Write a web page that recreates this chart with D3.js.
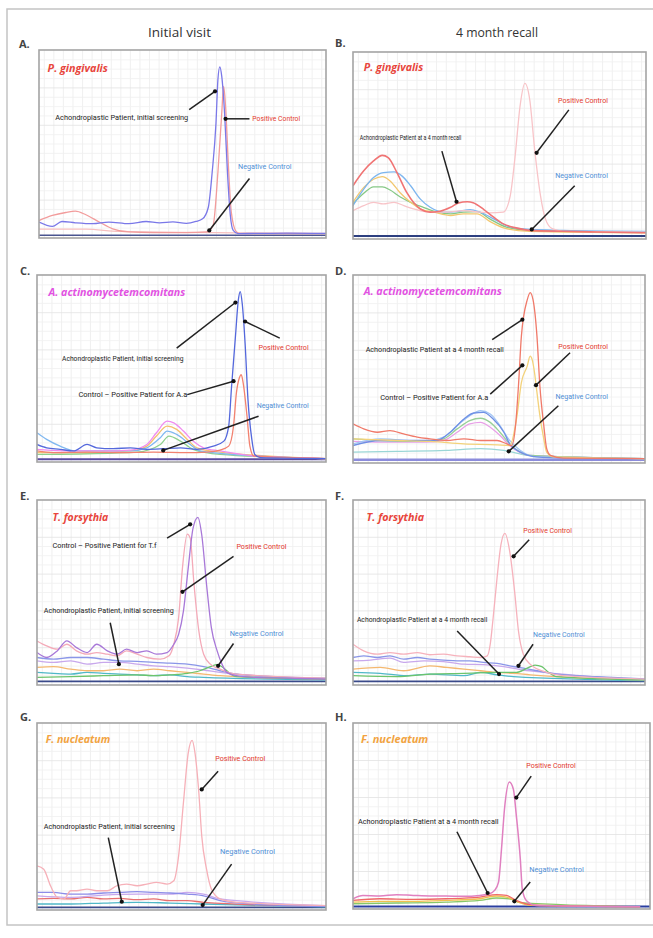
<!DOCTYPE html>
<html><head><meta charset="utf-8">
<script src="https://cdn.jsdelivr.net/npm/d3@7"></script>
<style>body{margin:0;background:#fff}svg{display:block}</style>
</head><body><svg id="fig" width="653" height="938"></svg>
<script>
// ---------------- DATA (temperature °C, -dF/dT relative units) ----------------
const columnTitles = ["Initial visit", "4 month recall"];
const panelLetters = ["A.", "B.", "C.", "D.", "E.", "F.", "G.", "H."];
const speciesNames = ["P. gingivalis", "P. gingivalis", "A. actinomycetemcomitans", "A. actinomycetemcomitans",
  "T. forsythia", "T. forsythia", "F. nucleatum", "F. nucleatum"];
const tempDomain = [65, 95];
const valueDomain = [0, 100];

// Panel A
const A_patient = [[65.0,8.0],[66.4,5.7],[67.4,8.3],[68.8,7.6],[70.6,7.1],[72.3,8.0],[74.4,7.1],[76.2,8.3],[77.6,7.6],[79.0,8.1],[80.4,7.3],[81.4,8.3],[82.1,9.7],[82.7,15.9],[83.1,34.5],[83.5,61],[83.7,84],[83.9,91],[84.1,86],[84.4,66],[84.7,34.5],[85.0,11.5],[85.3,3.5],[85.8,1.8],[87.4,1.9],[90.9,2.1],[95,1.9]];
const A_positive = [[65.0,8.8],[66.4,11.5],[67.8,13.1],[68.8,13.8],[69.9,11.9],[71.3,8.0],[72.7,4.4],[74.4,2.7],[76.9,2.3],[80.4,2.3],[82.5,2.7],[83.2,6.2],[83.7,34.5],[84.1,66],[84.3,80.5],[84.5,70],[84.8,38],[85.1,13.3],[85.6,3.0],[86.0,1.8],[95,1.8]];
const A_sample = [[65.0,4.2],[69.9,4.2],[73.4,3.0],[95,1.9]];
const A_negative = [[65,0.9],[95,0.9]];

// Panel B
const B_red = [[65.0,28.1],[66.1,36.1],[67.1,41.4],[68.0,44.4],[68.6,43.2],[69.5,35.2],[70.5,24.5],[71.9,15.6],[72.9,13.9],[73.9,14.4],[75.0,16.5],[75.8,18.8],[76.7,19.5],[77.3,19.0],[78.4,15.3],[79.4,11.2],[80.4,7.6],[81.8,5.3],[83.1,4.1],[86.5,3.6],[90.0,3.2],[95,2.8]];
const B_positive = [[65.0,14.7],[66.1,17.4],[67.1,19.2],[68.1,18.3],[69.2,19.2],[70.2,17.4],[71.2,15.6],[72.9,13.9],[74.6,13.9],[76.3,14.7],[78.0,13.9],[79.0,13.5],[80.4,13.9],[81.1,22.7],[81.6,44.0],[82.1,70.7],[82.6,83.1],[83.1,74.2],[83.6,47.6],[84.2,22.7],[84.7,10.3],[85.4,5.0],[86.5,3.6],[95,3.2]];
const B_blue = [[65.0,17.4],[66.1,26.3],[67.1,32.5],[68.1,35.2],[69.2,35.5],[70.0,33.4],[70.9,28.1],[71.9,20.9],[72.9,16.5],[74.3,13.9],[75.6,14.2],[77.0,15.3],[78.0,13.9],[79.4,10.3],[80.7,6.7],[82.1,5.0],[86.5,4.1],[95,3.6]];
const B_orange = [[65.0,19.2],[66.1,27.2],[67.1,31.6],[68.0,33.0],[68.8,30.7],[69.8,24.5],[70.9,19.2],[71.9,15.6],[73.3,13.9],[75.0,12.1],[76.3,13.0],[77.7,13.0],[79.0,8.9],[80.7,5.0],[83.1,3.6],[95,2.8]];
const B_green = [[65.0,18.3],[66.1,24.0],[67.1,27.5],[68.0,27.5],[68.8,25.8],[69.8,22.2],[70.9,19.2],[72.2,16.5],[73.6,13.9],[75.0,13.0],[76.3,13.9],[77.7,14.2],[79.0,10.3],[80.7,5.9],[83.1,4.1],[95,3.2]];
const B_negative = [[65,1.1],[95,1.1]];

// Panel C
const C_patient = [[65.0,8.9],[66.0,7.1],[67.4,6.3],[68.8,5.4],[70.2,8.9],[71.2,7.1],[72.9,6.6],[74.7,7.1],[76.4,6.3],[78.1,6.6],[79.9,7.1],[81.6,6.3],[83.3,8.0],[84.4,10.7],[84.9,18.8],[85.2,40.2],[85.6,66.9],[85.9,86.6],[86.1,91.1],[86.3,84.8],[86.6,63.4],[86.9,33.0],[87.3,11.6],[87.6,3.6],[88.2,1.8],[95.0,1.3]];
const C_positive = [[65.0,5.4],[66.7,4.5],[70.2,4.8],[73.6,4.5],[77.1,4.8],[80.6,4.5],[82.6,4.8],[84.0,5.9],[84.9,8.0],[85.4,18.8],[85.7,36.6],[86.0,44.6],[86.2,46.4],[86.4,42.0],[86.8,24.1],[87.1,8.0],[87.5,2.7],[95,1.3]];
const C_magenta = [[65.0,6.3],[68.5,5.4],[71.9,5.4],[74.7,5.9],[76.4,8.9],[77.4,15.2],[78.5,21.4],[79.2,20.5],[80.2,16.1],[81.2,10.7],[82.3,7.1],[84.0,5.4],[87.5,2.7],[95,1.3]];
const C_orange = [[65.0,4.5],[70.2,4.5],[74.7,5.4],[76.4,8.0],[77.4,13.4],[78.5,18.8],[79.5,17.0],[80.6,11.6],[81.6,7.1],[84.0,4.8],[95,1.3]];
const C_lightblue = [[65.0,15.2],[66.0,11.6],[67.4,8.0],[69.1,5.4],[71.9,5.4],[74.7,5.4],[76.4,7.1],[77.8,12.5],[78.5,16.1],[79.5,14.3],[80.9,8.9],[81.9,5.4],[84.0,4.1],[95,1.3]];
const C_green = [[65.0,3.6],[70.2,3.9],[75.4,4.8],[77.8,8.9],[78.7,13.4],[79.9,10.7],[81.2,6.3],[84.0,3.6],[95,1.3]];
const C_negative = [[65,1.0],[95,1.0]];

// Panel D
const D_patient = [[65.0,20.4],[66.1,17.7],[67.5,15.9],[68.8,16.8],[70.2,15.0],[71.6,13.3],[72.9,12.4],[74.6,11.5],[76.4,12.4],[78.1,11.5],[79.8,11.5],[80.8,9.7],[81.3,8.8],[81.7,19.5],[82.0,40.7],[82.3,67.3],[82.9,86.7],[83.2,90.6],[83.5,86.7],[83.9,67.3],[84.2,40.7],[84.6,19.5],[84.9,7.1],[85.3,3.5],[86.6,2.1],[95.0,1.8]];
const D_positive = [[65.0,12.4],[69.5,11.5],[72.9,11.0],[76.4,9.7],[79.8,9.2],[81.1,8.8],[81.8,23.0],[82.3,42.5],[82.9,51.3],[83.2,56.6],[83.4,54.9],[83.6,49.6],[83.9,37.2],[84.2,24.8],[84.6,12.4],[84.9,5.3],[85.6,2.7],[95,1.8]];
const D_blue = [[65.0,8.8],[67.8,11.5],[71.2,11.5],[73.6,11.5],[75.0,15.9],[76.4,23.0],[77.4,26.2],[78.4,26.5],[79.4,23.0],[80.5,15.9],[81.1,9.7],[82.2,5.3],[83.9,2.7],[86.6,2.1],[95,1.8]];
const D_lightblue = [[65.0,9.7],[67.8,12.4],[72.3,11.0],[74.3,13.3],[75.7,19.5],[77.0,24.8],[78.1,27.4],[79.1,25.7],[80.1,19.5],[81.1,11.5],[82.2,6.2],[83.9,2.7],[95,1.8]];
const D_green = [[65.0,12.4],[67.8,11.5],[72.3,11.0],[74.3,12.4],[75.7,17.7],[77.0,22.1],[78.1,23.4],[79.1,21.2],[80.1,15.9],[81.1,9.7],[83.2,3.5],[95,1.8]];
const D_magenta = [[65.0,11.0],[67.8,10.6],[72.3,10.6],[74.3,11.5],[75.7,15.9],[77.0,20.4],[78.1,21.2],[79.1,18.6],[80.1,14.2],[81.1,8.8],[83.2,3.5],[95,1.8]];
const D_teal = [[65.0,5.3],[69.5,5.7],[74.6,6.2],[78.1,7.1],[80.5,6.2],[83.2,3.5],[95,1.8]];
const D_negative = [[65,1.2],[95,1.2]];

// Panel E
const E_controlTf = [[65.0,17.1],[66.0,14.4],[67.1,18.0],[68.1,23.4],[69.1,19.8],[70.2,17.1],[71.2,21.6],[72.3,18.0],[73.3,16.2],[74.3,18.9],[75.4,17.1],[76.4,18.0],[77.4,16.2],[78.5,17.1],[79.2,21.6],[79.7,27.0],[80.2,39.6],[80.7,63.1],[81.2,84.7],[81.7,90.6],[82.1,81.1],[82.6,54.1],[83.1,30.6],[83.7,18.0],[84.2,10.8],[84.7,6.3],[85.7,4.5],[87.5,3.6],[90.9,3.2],[95,2.7]];
const E_positive = [[65.0,23.4],[66.0,20.7],[67.1,18.9],[68.1,21.6],[69.1,18.0],[70.2,16.2],[71.2,17.1],[72.3,16.2],[73.3,15.3],[74.3,18.0],[75.4,16.2],[76.4,14.4],[77.8,13.5],[78.7,15.3],[79.2,21.6],[79.7,36.0],[80.1,63.1],[80.6,81.4],[80.9,79.3],[81.3,54.1],[81.8,28.8],[82.3,16.2],[83.0,10.8],[84.0,8.1],[85.7,5.4],[95,3.2]];
const E_blue = [[65.0,14.4],[66.7,13.5],[68.5,14.4],[70.2,14.4],[71.9,13.5],[73.6,12.6],[75.4,12.3],[77.1,11.7],[78.8,11.3],[80.6,10.8],[82.3,9.4],[84.0,7.2],[85.7,5.4],[87.5,4.5],[95,3.2]];
const E_lavender = [[65.0,12.6],[66.7,11.7],[68.5,12.6],[70.2,10.8],[71.9,11.7],[73.6,11.7],[75.4,10.8],[77.1,9.9],[78.8,9.4],[80.6,8.6],[82.3,7.6],[84.0,6.3],[95,2.7]];
const E_orange = [[65.0,9.0],[66.7,9.4],[68.5,8.1],[70.2,7.2],[71.9,7.2],[73.6,8.1],[75.4,7.2],[77.1,8.1],[78.8,7.2],[80.6,6.3],[82.3,5.4],[84.0,4.5],[95,2.7]];
const E_green = [[65.0,3.6],[68.5,4.0],[71.9,4.5],[75.4,5.0],[77.1,4.5],[78.8,5.0],[80.6,5.8],[81.9,7.2],[83.0,9.4],[83.7,10.5],[84.2,9.4],[84.9,6.3],[85.7,4.0],[95,2.7]];
const E_teal = [[65.0,6.3],[66.7,5.8],[68.5,5.4],[70.2,6.3],[71.9,5.8],[73.6,5.4],[75.4,5.0],[77.1,4.5],[78.8,5.0],[80.6,4.0],[82.3,3.6],[95,2.2]];
const E_negative = [[65,1.4],[95,1.4]];

// Panel F
const F_positive = [[65.0,21.6],[66.1,18.0],[67.5,16.2],[68.8,17.1],[70.2,16.2],[71.6,17.1],[72.9,15.9],[74.3,16.2],[75.7,15.3],[77.0,14.8],[78.1,14.4],[78.8,15.3],[79.1,21.6],[79.4,36.0],[79.8,57.7],[80.2,75.7],[80.6,81.9],[81.1,72.1],[81.6,50.5],[82.0,28.8],[82.5,16.2],[83.2,10.8],[84.9,6.3],[86.6,4.5],[95,2.7]];
const F_blue = [[65.0,14.4],[66.1,15.3],[67.5,14.4],[68.8,15.3],[70.2,13.5],[71.6,14.4],[72.9,13.5],[74.3,13.0],[75.7,12.6],[77.0,12.6],[78.4,11.7],[79.8,11.2],[81.1,9.9],[82.5,8.6],[83.9,7.2],[85.9,5.4],[90.0,4.0],[95,2.7]];
const F_lavender = [[65.0,12.6],[66.8,13.0],[68.8,14.1],[70.2,11.7],[72.3,12.6],[74.3,12.2],[76.4,10.8],[78.4,10.5],[80.5,9.4],[82.5,7.6],[84.6,6.3],[95,2.2]];
const F_orange = [[65.0,8.1],[67.8,9.0],[70.2,7.2],[72.9,9.9],[74.6,9.0],[76.4,8.1],[78.1,7.2],[79.8,6.3],[81.5,5.8],[83.2,5.0],[95,2.2]];
const F_green = [[65.0,4.5],[69.5,4.0],[72.9,5.4],[76.4,5.8],[79.8,6.3],[81.8,6.3],[82.9,8.6],[83.7,10.3],[84.4,9.4],[85.1,6.3],[85.9,4.0],[95,2.2]];
const F_teal = [[65.0,6.3],[67.8,5.8],[70.5,4.5],[72.9,5.4],[76.4,4.5],[78.1,6.3],[79.8,5.0],[81.5,4.0],[95,1.8]];
const F_negative = [[65,1.4],[95,1.4]];

// Panel G
const G_positive = [[65.0,23.2],[65.7,21.4],[66.4,12.5],[67.1,6.3],[67.8,5.4],[68.5,9.8],[69.1,9.8],[70.2,10.7],[71.2,9.8],[72.3,9.8],[73.3,12.5],[74.3,13.4],[75.4,12.5],[76.4,13.4],[77.4,14.3],[78.5,13.4],[79.2,15.2],[79.7,28.6],[80.2,57.1],[80.7,83.9],[81.1,90.7],[81.4,83.9],[81.8,62.5],[82.1,39.3],[82.6,21.4],[83.1,10.7],[84.0,5.4],[85.7,3.6],[95,1.8]];
const G_blue = [[65.0,8.9],[66.7,8.9],[68.5,8.0],[70.2,8.0],[71.9,8.6],[73.6,8.9],[75.4,9.3],[77.1,8.9],[78.8,8.6],[80.6,8.0],[82.3,7.1],[84.0,4.5],[87.5,2.7],[95,1.4]];
const G_lavender = [[65.0,7.1],[68.5,6.3],[71.9,7.5],[75.4,8.0],[78.8,8.0],[80.6,8.9],[82.3,8.0],[84.0,5.4],[95,1.8]];
const G_red = [[65.0,5.4],[66.7,5.7],[68.5,5.4],[70.2,6.3],[71.9,5.4],[73.6,5.7],[75.4,5.0],[77.1,5.4],[78.8,4.5],[80.6,4.5],[82.3,3.6],[95,1.4]];
const G_teal = [[65.0,2.7],[68.5,2.7],[71.9,3.2],[75.4,3.6],[78.8,3.2],[82.3,2.7],[95,1.1]];
const G_negative = [[65,0.9],[95,0.9]];

// Panel H
const H_positive = [[65.0,5.0],[66.0,6.8],[67.7,6.5],[69.4,7.2],[71.1,6.8],[72.8,6.5],[74.4,6.5],[76.1,6.3],[77.8,6.8],[78.8,7.7],[79.3,9.5],[79.7,14.0],[80.0,31.9],[80.3,53.4],[80.8,68.1],[81.2,64.2],[81.5,49.8],[81.9,26.5],[82.1,10.2],[82.5,4.1],[83.5,1.4],[86.2,1.1],[94.0,0.7]];
const H_red = [[65.0,4.1],[67.7,5.0],[71.1,4.7],[74.4,5.0],[77.8,5.9],[79.5,7.2],[80.5,6.8],[81.5,4.1],[82.9,1.8],[86.2,1.1],[94.0,0.7]];
const H_orange = [[65.0,3.2],[67.7,3.6],[71.1,3.6],[74.4,4.1],[77.8,5.0],[79.5,6.5],[80.5,5.9],[81.5,3.6],[82.9,1.4],[94,0.7]];
const H_green = [[65.0,2.3],[69.4,2.7],[74.4,3.2],[77.8,4.1],[79.5,5.4],[80.8,5.0],[81.9,2.9],[94,0.7]];
const H_negative = [[65,0.8],[95,0.8]];

// Annotations: label span in °C, label height in value units, arrow from/to in (°C, value)
const A_notes = [
  {label:"Achondroplastic Patient, initial screening", role:"patient", span:[66.7,80.6], v:63.4, from:[80.7,68.1], to:[83.4,77.9]},
  {label:"Positive Control", role:"positive", span:[87.3,92.3], v:62.8, from:[87.0,63.2], to:[84.5,63.2]},
  {label:"Negative Control", role:"negative", span:[85.8,91.4], v:37.5, from:[87.0,31.3], to:[82.8,3.5]}];
const B_notes = [
  {label:"Positive Control", role:"positive", span:[86.0,91.1], v:73.4, from:[87.1,68.9], to:[83.8,45.8]},
  {label:"Achondroplastic Patient at a 4 month  recall", role:"patient", span:[65.7,76.1], v:53.5, from:[74.1,46.7], to:[75.6,19.5]},
  {label:"Negative Control", role:"negative", span:[85.7,91.1], v:33.0, from:[87.7,28.1], to:[83.3,4.6]}];
const C_notes = [
  {label:"Achondroplastic Patient, initial screening", role:"patient", span:[67.6,80.2], v:55.0, from:[79.5,60.7], to:[85.6,85.2]},
  {label:"Positive Control", role:"positive", span:[88.0,93.2], v:60.7, from:[90.2,66.1], to:[86.6,75.0]},
  {label:"Control – Positive Patient for A.a", role:"patient", span:[69.3,80.6], v:35.2, from:[80.6,35.7], to:[85.4,42.9]},
  {label:"Negative Control", role:"negative", span:[87.8,93.2], v:29.5, from:[88.0,24.1], to:[78.1,5.7]}];
const D_notes = [
  {label:"Achondroplastic Patient at a 4 month  recall", role:"patient", span:[66.3,80.5], v:59.8, from:[79.3,65.5], to:[82.4,76.1]},
  {label:"Positive Control", role:"positive", span:[86.1,91.2], v:61.6, from:[87.3,58.4], to:[83.8,41.1]},
  {label:"Control – Positive Patient for A.a", role:"patient", span:[67.8,78.9], v:34.0, from:[79.1,36.3], to:[82.4,51.7]},
  {label:"Negative Control", role:"negative", span:[85.8,91.2], v:34.5, from:[86.1,30.1], to:[81.0,5.7]}];
const E_notes = [
  {label:"Control – Positive Patient for T.f", role:"patient", span:[66.6,77.4], v:74.8, from:[78.5,79.3], to:[80.9,86.8]},
  {label:"Positive Control", role:"positive", span:[85.7,90.9], v:74.2, from:[85.4,69.4], to:[80.1,50.1]},
  {label:"Achondroplastic Patient, initial screening", role:"patient", span:[65.7,79.2], v:39.6, from:[72.6,33.3], to:[73.5,10.8]},
  {label:"Negative Control", role:"negative", span:[85.0,90.6], v:27.0, from:[85.4,22.0], to:[83.8,9.9]}];
const F_notes = [
  {label:"Positive Control", role:"positive", span:[82.5,87.5], v:82.9, from:[83.1,78.4], to:[81.5,69.4]},
  {label:"Achondroplastic Patient at a 4 month  recall", role:"patient", span:[65.4,78.8], v:34.6, from:[75.7,28.8], to:[80.0,5.4]},
  {label:"Negative Control", role:"negative", span:[83.5,88.8], v:26.5, from:[83.5,21.6], to:[82.0,9.9]}];
const G_notes = [
  {label:"Positive Control", role:"positive", span:[83.5,88.7], v:80.7, from:[83.8,74.1], to:[82.1,64.3]},
  {label:"Achondroplastic Patient, initial screening", role:"patient", span:[65.7,79.3], v:43.8, from:[72.4,38.4], to:[73.8,3.9]},
  {label:"Negative Control", role:"negative", span:[84.0,89.7], v:30.7, from:[85.2,24.1], to:[82.2,2.1]}];
const H_notes = [
  {label:"Positive Control", role:"positive", span:[82.5,87.5], v:76.7, from:[83.0,71.3], to:[81.5,59.7]},
  {label:"Achondroplastic Patient at a 4 month  recall", role:"patient", span:[65.5,79.7], v:46.6, from:[75.5,41.2], to:[78.6,8.1]},
  {label:"Negative Control", role:"negative", span:[82.8,88.3], v:20.6, from:[82.9,14.0], to:[81.3,3.6]}];

// Species title placement (°C span, value)
const titleSpans = [[65.9,72.2,89.7],[66.1,72.2,91.1],[66.2,80.4,90.2],[66.1,80.3,90.6],[66.6,72.4,90.1],[66.4,72.3,90.1],[65.9,72.6,90.7],[65.8,72.6,90.7]];

// ---------------- LAYOUT & STYLE ----------------
const boxes = [[39,50,326,238],[353,52,646,239],[37,275,326,462],[353,275,645,463],[37,500,326,685],[353,500,645,685],[37,723,326,910],[353,723,650,909]];
const letterPos = [[19,48],[335,47],[20,275],[335,275],[20,500],[335,500],[20,721],[335,721]];
const speciesColor = ["#e8453c","#e8453c","#e252e2","#e252e2","#e8453c","#e8453c","#f2a340","#f2a340"];
const roleColor = {patient:"#1c1c1c", positive:"#e3382c", negative:"#4f8fd6"};

const panelSeries = [
  [{d:A_sample,c:"#f7c0c0"},{d:A_negative,c:"#4a5590",w:1.6},{d:A_positive,c:"#f29c9c"},{d:A_patient,c:"#7a78e8"}],
  [{d:B_negative,c:"#2d3f80",w:2},{d:B_green,c:"#86c886"},{d:B_orange,c:"#f2c870"},{d:B_blue,c:"#7db6ef"},{d:B_positive,c:"#f8c4c8"},{d:B_red,c:"#f07474",w:1.6}],
  [{d:C_negative,c:"#5a4aa0",w:2},{d:C_green,c:"#8fd08f"},{d:C_orange,c:"#f5c070"},{d:C_lightblue,c:"#80b8f0"},{d:C_magenta,c:"#f08cf0"},{d:C_positive,c:"#f28270"},{d:C_patient,c:"#5468dc"}],
  [{d:D_negative,c:"#8c8cdc",w:2.5},{d:D_teal,c:"#9ad6d6"},{d:D_magenta,c:"#e8a0e8"},{d:D_green,c:"#98d098"},{d:D_lightblue,c:"#a2c6f4"},{d:D_blue,c:"#6f90e4"},{d:D_positive,c:"#f3d27a"},{d:D_patient,c:"#f07a6a"}],
  [{d:E_negative,c:"#3a4a8a",w:1.6},{d:E_teal,c:"#50b8c8"},{d:E_orange,c:"#f4b870"},{d:E_lavender,c:"#c8a8ec"},{d:E_blue,c:"#8a96e8"},{d:E_green,c:"#6cc46c"},{d:E_positive,c:"#f4aab8"},{d:E_controlTf,c:"#a878d8"}],
  [{d:F_negative,c:"#3a4a8a",w:1.6},{d:F_teal,c:"#50b8c8"},{d:F_orange,c:"#f4b870"},{d:F_lavender,c:"#c8a8ec"},{d:F_blue,c:"#8a96e8"},{d:F_green,c:"#6cc46c"},{d:F_positive,c:"#f6b2bc"}],
  [{d:G_negative,c:"#3a4a8a",w:1.6},{d:G_teal,c:"#50b8c8"},{d:G_red,c:"#e87070"},{d:G_lavender,c:"#c8a8ec"},{d:G_blue,c:"#8c8ce8"},{d:G_positive,c:"#f6b0b8"}],
  [{d:H_negative,c:"#2a3ea0",w:2.2},{d:H_green,c:"#88c868"},{d:H_orange,c:"#f0c050"},{d:H_red,c:"#f06868"},{d:H_positive,c:"#e080c0",w:1.5}]
];
const panelNotes = [A_notes,B_notes,C_notes,D_notes,E_notes,F_notes,G_notes,H_notes];

// ---------------- DRAW ----------------
const svg = d3.select("#fig");
svg.append("rect").attr("x",7).attr("y",9).attr("width",660).attr("height",916)
  .attr("fill","none").attr("stroke","#c4c4c4").attr("stroke-width",1.5);

const headerPos = [[148,211],[456,538]];
columnTitles.forEach((t,i)=>{
  svg.append("text").attr("x",headerPos[i][0]).attr("y",37)
    .attr("textLength",headerPos[i][1]-headerPos[i][0]).attr("lengthAdjust","spacingAndGlyphs")
    .attr("font-family","Open Sans, Liberation Sans, sans-serif").attr("font-size",13).attr("fill","#333").text(t);
});

boxes.forEach((b,i)=>{
  const [x0,y0,x1,y1] = b;
  const x = d3.scaleLinear().domain(tempDomain).range([x0,x1]);
  const y = d3.scaleLinear().domain(valueDomain).range([y1-1,y0]);
  const g = svg.append("g");
  g.append("rect").attr("x",x0).attr("y",y0).attr("width",x1-x0).attr("height",y1-y0).attr("fill","#fff");
  // grid via axes
  const gx = g.append("g").attr("transform",`translate(0,${y1})`)
    .call(d3.axisBottom(x).tickValues(d3.range(65.5,95,1)).tickSize(-(y1-y0)).tickFormat(""));
  gx.select(".domain").remove();
  gx.selectAll("line").attr("stroke","#ececec").attr("stroke-width",0.8);
  const gy = g.append("g").attr("transform",`translate(${x0},0)`)
    .call(d3.axisLeft(y).tickValues(d3.range(5,100,5)).tickSize(-(x1-x0)).tickFormat(""));
  gy.select(".domain").remove();
  gy.selectAll("line").attr("stroke",(d)=> d%20===0 ? "#e2e2e2" : "#f0f0f0").attr("stroke-width",0.8);

  const line = d3.line().x(d=>x(d[0])).y(d=>y(d[1])).curve(d3.curveMonotoneX);
  const clipId = "clip"+i;
  g.append("clipPath").attr("id",clipId).append("rect").attr("x",x0).attr("y",y0).attr("width",x1-x0).attr("height",y1-y0);
  const cg = g.append("g").attr("clip-path",`url(#${clipId})`);
  panelSeries[i].forEach(s=>{
    cg.append("path").attr("d",line(s.d)).attr("fill","none").attr("stroke",s.c)
      .attr("stroke-width",s.w||1.3).attr("stroke-linejoin","round");
  });

  g.append("rect").attr("x",x0).attr("y",y0).attr("width",x1-x0).attr("height",y1-y0)
    .attr("fill","none").attr("stroke","#a4a4a4").attr("stroke-width",1.6);

  // species title
  const ts = titleSpans[i];
  g.append("text").attr("x",x(ts[0])).attr("y",y(ts[2])).attr("dominant-baseline","middle")
    .attr("textLength",x(ts[1])-x(ts[0])).attr("lengthAdjust","spacingAndGlyphs")
    .attr("font-family","Open Sans, Liberation Sans, sans-serif").attr("font-style","italic").attr("font-weight","bold")
    .attr("font-size",10.5).attr("fill",speciesColor[i]).text(speciesNames[i]);

  // annotations
  panelNotes[i].forEach(n=>{
    g.append("text").attr("x",x(n.span[0])).attr("y",y(n.v)).attr("dominant-baseline","middle")
      .attr("textLength",x(n.span[1])-x(n.span[0])).attr("lengthAdjust","spacingAndGlyphs")
      .attr("font-family","Liberation Sans Narrow, Roboto, sans-serif").attr("font-size",7)
      .attr("fill",roleColor[n.role]).text(n.label);
    g.append("line").attr("x1",x(n.from[0])).attr("y1",y(n.from[1])).attr("x2",x(n.to[0])).attr("y2",y(n.to[1]))
      .attr("stroke","#222").attr("stroke-width",1.5);
    g.append("circle").attr("cx",x(n.to[0])).attr("cy",y(n.to[1])).attr("r",2.1).attr("fill","#111");
  });

  svg.append("text").attr("x",letterPos[i][0]).attr("y",letterPos[i][1])
    .attr("font-family","Open Sans, Liberation Sans, sans-serif").attr("font-weight","bold")
    .attr("font-size",11).attr("fill","#444").text(panelLetters[i]);
});
</script></body></html>
